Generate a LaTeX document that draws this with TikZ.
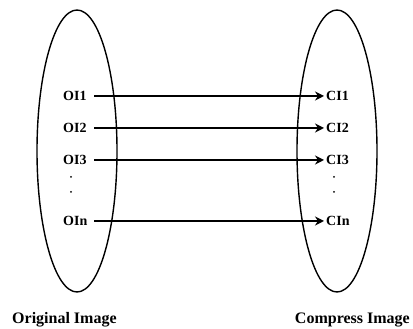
\documentclass[tikz,border=0pt]{standalone}
\usepackage{fontspec}
\setmainfont{Liberation Serif}
\usetikzlibrary{positioning, arrows.meta, shapes.geometric}

\begin{document}
\begin{tikzpicture}[
          x=1pt, y=1pt,
          set/.style={
              ellipse, draw, line width=1.4pt,
              minimum width=80pt, minimum height=282pt, inner sep=0pt
          },
          item/.style={
              anchor=west, inner sep=2pt, text width=29pt, align=left,
              font=\fontsize{14}{14}\selectfont\bfseries
          },
          dot/.style={circle, fill, inner sep=0pt, minimum size=2pt},
          caption/.style={font=\fontsize{16}{16}\selectfont\bfseries, inner sep=0pt},
          >={Stealth[length=9pt, width=9pt]},
      ]
          \useasboundingbox (0,0) rectangle (413,329);

          % Sets
          \node [set] (original) at (77,178) {};
          \node [set] (compress) at (337,178) {};

          % Original image items
          \node [item] (oi1) at (61,233) {OI1};
          \node [item] (oi2) at (61,201) {OI2};
          \node [item] (oi3) at (61,169) {OI3};
          \node [dot] (odot1) at (71,152) {};
          \node [dot] (odot2) at (71,137) {};
          \node [item] (oin) at (61,108) {OIn};

          % Compress image items
          \node [item] (ci1) at (324,233) {CI1};
          \node [item] (ci2) at (324,201) {CI2};
          \node [item] (ci3) at (324,169) {CI3};
          \node [dot] (cdot1) at (334,152) {};
          \node [dot] (cdot2) at (334,137) {};
          \node [item] (cin) at (324,108) {CIn};

          % Arrows
          \draw [line width=1.5pt, ->] (oi1.east) -- (ci1.west);
          \draw [line width=1.5pt, ->] (oi2.east) -- (ci2.west);
          \draw [line width=1.5pt, ->] (oi3.east) -- (ci3.west);
          \draw [line width=1.5pt, ->] (oin.east) -- (cin.west);

          % Captions
          \node [caption, anchor=west] (origlabel) at (12,9) {Original Image};
          \node [caption, anchor=east] (complabel) at (410,9) {Compress Image};
        \end{tikzpicture}
\end{document}
